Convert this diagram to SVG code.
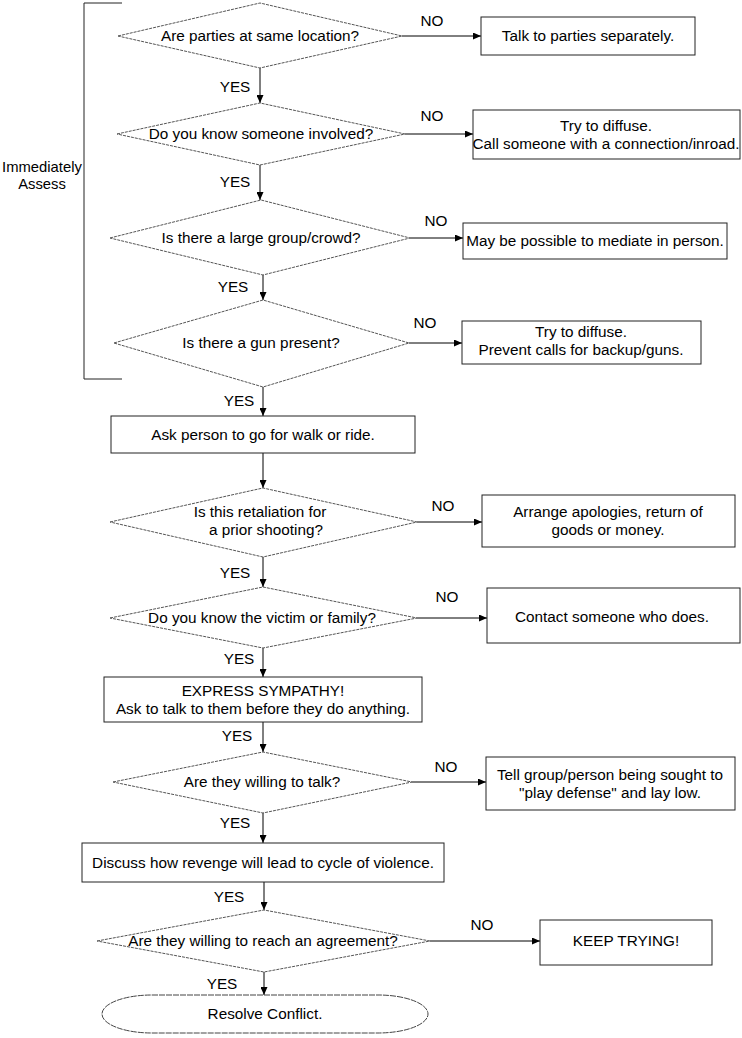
<svg xmlns="http://www.w3.org/2000/svg" width="742" height="1038" viewBox="0 0 742 1038">
<style>
text{font-family:"Liberation Sans",Arial,sans-serif;font-size:15.3px;fill:#000;text-anchor:middle}
.side{font-size:14.8px}
.dia{fill:#fff;stroke:#555;stroke-width:1;stroke-dasharray:3,1}
.box{fill:#fff;stroke:#222;stroke-width:1}
.term{fill:#fff;stroke:#444;stroke-width:1;stroke-dasharray:6,1}
.con line,.con polyline{stroke:#000;stroke-width:1;fill:none}
.arr{marker-end:url(#ah)}
</style>
<defs>
<marker id="ah" markerUnits="userSpaceOnUse" markerWidth="9" markerHeight="7" refX="8" refY="3.5" orient="auto"><path d="M0,0 L8,3.5 L0,7 z" fill="#000"/></marker>
</defs>
<rect width="742" height="1038" fill="#fff"/>

<g id="bracket">
<polyline points="122,3 84,3 84,379 122,379" fill="none" stroke="#222" stroke-width="1"/>
<text class="side" x="42" y="172">Immediately</text>
<text class="side" x="42" y="189">Assess</text>
</g>

<g class="con" id="connectors">
<line class="arr" x1="260" y1="68" x2="260" y2="103"/>
<line class="arr" x1="260" y1="165" x2="260" y2="200"/>
<line class="arr" x1="263" y1="275" x2="263" y2="300"/>
<line class="arr" x1="263" y1="387" x2="263" y2="416"/>
<line class="arr" x1="263" y1="453" x2="263" y2="488"/>
<line class="arr" x1="263" y1="557" x2="263" y2="587"/>
<line class="arr" x1="263" y1="648" x2="263" y2="677"/>
<line class="arr" x1="263" y1="722" x2="263" y2="752"/>
<line class="arr" x1="263" y1="813" x2="263" y2="843"/>
<line class="arr" x1="264" y1="882" x2="264" y2="910"/>
<line class="arr" x1="264" y1="972" x2="264" y2="995"/>
<line class="arr" x1="402" y1="36" x2="481" y2="36"/>
<line class="arr" x1="405" y1="134" x2="473" y2="134"/>
<line class="arr" x1="410" y1="238" x2="463" y2="238"/>
<line class="arr" x1="409" y1="343" x2="462" y2="343"/>
<line class="arr" x1="417" y1="522" x2="482" y2="522"/>
<line class="arr" x1="417" y1="618" x2="487" y2="618"/>
<line class="arr" x1="412" y1="782" x2="486" y2="782"/>
<line class="arr" x1="430" y1="941" x2="540" y2="941"/>
<text x="235" y="92">YES</text>
<text x="235" y="187">YES</text>
<text x="233" y="292">YES</text>
<text x="239" y="406">YES</text>
<text x="235" y="578">YES</text>
<text x="239" y="664">YES</text>
<text x="237" y="741">YES</text>
<text x="235" y="828">YES</text>
<text x="229" y="902">YES</text>
<text x="222" y="989">YES</text>
<text x="432" y="26">NO</text>
<text x="432" y="121">NO</text>
<text x="436" y="226">NO</text>
<text x="425" y="328">NO</text>
<text x="443" y="511">NO</text>
<text x="447" y="602">NO</text>
<text x="446" y="772">NO</text>
<text x="482" y="930">NO</text>
</g>

<g id="d1"><polygon class="dia" points="118,36 260,3 402,36 260,68"/><text x="260" y="41">Are parties at same location?</text></g>
<g id="b1"><rect class="box" x="481" y="17" width="214" height="38"/><text x="588" y="41">Talk to parties separately.</text></g>

<g id="d2"><polygon class="dia" points="117,134 260,103 405,134 260,165"/><text x="261" y="139">Do you know someone involved?</text></g>
<g id="b2"><rect class="box" x="473" y="110" width="267" height="49"/><text x="606" y="131">Try to diffuse.</text><text x="606" y="149">Call someone with a connection/inroad.</text></g>

<g id="d3"><polygon class="dia" points="110,238 261,200 410,238 263,275"/><text x="261" y="243">Is there a large group/crowd?</text></g>
<g id="b3"><rect class="box" x="463" y="223" width="264" height="36"/><text x="595" y="246">May be possible to mediate in person.</text></g>

<g id="d4"><polygon class="dia" points="114,343 263,300 409,343 263,387"/><text x="261" y="348">Is there a gun present?</text></g>
<g id="b4"><rect class="box" x="462" y="321" width="239" height="43"/><text x="581" y="337">Try to diffuse.</text><text x="581" y="355">Prevent calls for backup/guns.</text></g>

<g id="b5"><rect class="box" x="111" y="416" width="304" height="37"/><text x="263" y="440">Ask person to go for walk or ride.</text></g>

<g id="d5"><polygon class="dia" points="110,522 263,488 417,522 263,557"/><text x="260" y="517">Is this retaliation for</text><text x="266" y="535">a prior shooting?</text></g>
<g id="b6"><rect class="box" x="482" y="495" width="253" height="52"/><text x="608" y="517">Arrange apologies, return of</text><text x="608" y="535">goods or money.</text></g>

<g id="d6"><polygon class="dia" points="110,618 263,587 417,618 263,648"/><text x="262" y="623">Do you know the victim or family?</text></g>
<g id="b7"><rect class="box" x="487" y="588" width="253" height="55"/><text x="612" y="622">Contact someone who does.</text></g>

<g id="b8"><rect class="box" x="104" y="677" width="318" height="45"/><text x="263" y="696">EXPRESS SYMPATHY!</text><text x="263" y="714">Ask to talk to them before they do anything.</text></g>

<g id="d7"><polygon class="dia" points="113,782 263,752 412,782 263,813"/><text x="262" y="787">Are they willing to talk?</text></g>
<g id="b9"><rect class="box" x="486" y="757" width="249" height="53"/><text x="610" y="780">Tell group/person being sought to</text><text x="610" y="798">"play defense" and lay low.</text></g>

<g id="b10"><rect class="box" x="82" y="843" width="362" height="39"/><text x="263" y="868">Discuss how revenge will lead to cycle of violence.</text></g>

<g id="d8"><polygon class="dia" points="97,941 264,910 430,941 264,972"/><text x="263" y="946">Are they willing to reach an agreement?</text></g>
<g id="b11"><rect class="box" x="540" y="920" width="172" height="45"/><text x="626" y="946">KEEP TRYING!</text></g>

<g id="end"><rect class="term" x="102" y="995" width="326" height="38" rx="50" ry="19"/><text x="265" y="1019">Resolve Conflict.</text></g>
</svg>
